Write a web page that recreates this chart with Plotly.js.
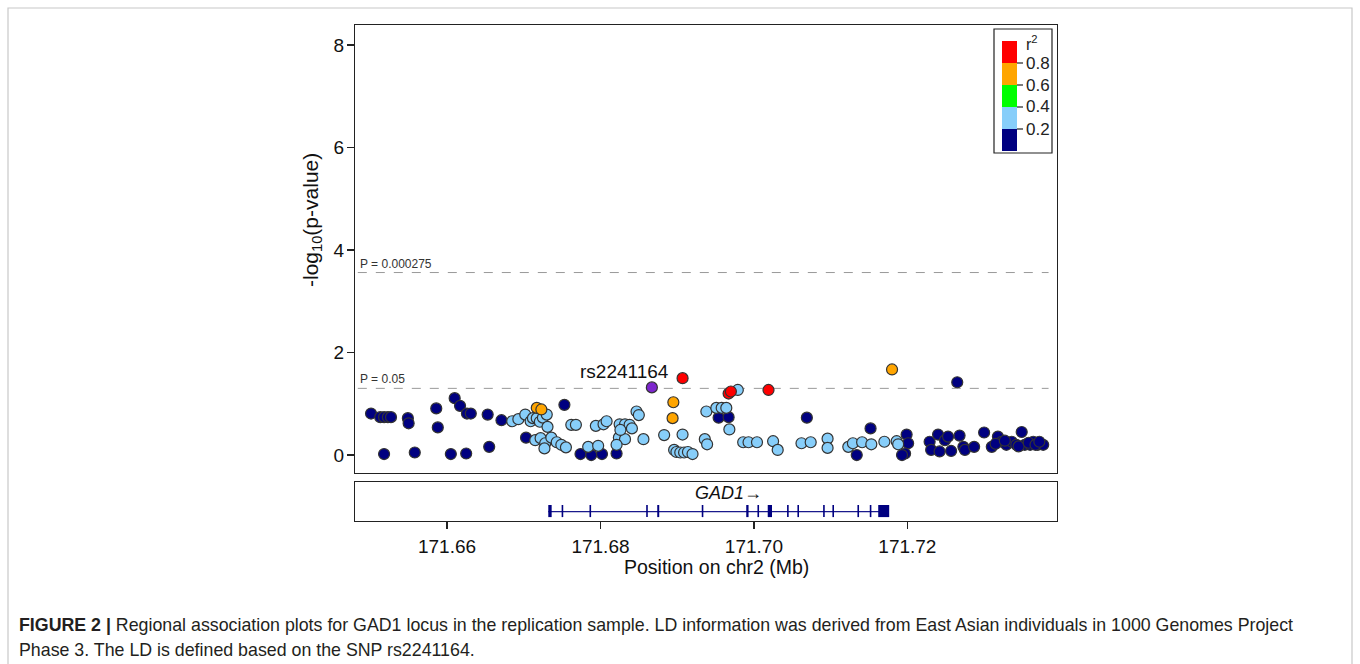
<!DOCTYPE html>
<html><head><meta charset="utf-8">
<script src="https://cdn.plot.ly/plotly-3.0.1.min.js"></script>
<style>html,body{margin:0;padding:0;background:#fff;}#chart{width:1360px;height:664px;}</style>
</head><body><div id="chart"></div>
<script>
// ---- data: SNP positions (Mb on chr2), -log10(p), LD r2 with the index SNP ----
const snpPos = [
  171.6501,171.6513,171.6518,171.6523,171.6527,171.6518,171.6549,171.6550,171.6558,171.6586,
  171.6588,171.6605,171.6610,171.6617,171.6626,171.6631,171.6625,171.6653,171.6655,171.6671,
  171.6703,171.6753,171.6774,171.6788,171.6802,171.6821,171.6954,171.6967,171.7069,171.7152,
  171.7134,171.7199,171.7201,171.7197,171.7193,171.7229,171.7231,171.7240,171.7242,171.7249,
  171.7253,171.7257,171.7268,171.7273,171.7275,171.7287,171.7265,171.7300,171.7310,171.7318,
  171.7323,171.7329,171.7336,171.7342,171.7349,171.7353,171.7360,171.7364,171.7370,171.7377,
  171.7315,171.7327,171.7345,171.7358,171.7367,171.7372,
  171.6685,171.6693,171.6702,171.6709,171.6712,171.6717,171.6721,171.6725,171.6730,171.6731,
  171.6715,171.6722,171.6728,171.6727,171.6736,171.6743,171.6749,171.6755,171.6762,171.6768,
  171.6794,171.6804,171.6784,171.6797,171.6808,171.6825,171.6832,171.6838,171.6841,171.6847,
  171.6850,171.6824,171.6832,171.6821,171.6826,171.6856,171.6883,171.6907,171.6896,171.6899,
  171.6904,171.6909,171.6914,171.6920,171.6936,171.6939,171.6938,171.6951,171.6958,171.6964,
  171.6968,171.6979,171.6986,171.6993,171.7004,171.7025,171.7031,171.7062,171.7074,171.7096,
  171.7096,171.7123,171.7129,171.7141,171.7153,171.7170,171.7186,171.7188,
  171.6717,171.6723,171.6895,171.6894,171.7180,
  171.6907,171.6967,171.6970,171.7019
];
const snpLogP = [
  0.81,0.74,0.74,0.74,0.74,0.02,0.72,0.62,0.05,0.91,
  0.54,0.02,1.11,0.96,0.81,0.81,0.03,0.79,0.16,0.68,
  0.34,0.98,0.02,0.00,0.02,0.03,0.73,0.74,0.73,0.52,
  0.00,0.40,0.23,0.03,0.00,0.26,0.10,0.40,0.07,0.29,
  0.36,0.08,0.38,0.16,0.10,0.16,1.42,0.44,0.16,0.36,
  0.26,0.20,0.26,0.20,0.45,0.20,0.20,0.26,0.20,0.20,
  0.22,0.28,0.17,0.24,0.20,0.26,
  0.66,0.70,0.79,0.66,0.72,0.72,0.65,0.73,0.79,0.55,
  0.29,0.33,0.23,0.13,0.34,0.25,0.20,0.15,0.59,0.59,
  0.57,0.60,0.16,0.18,0.66,0.60,0.60,0.59,0.52,0.85,
  0.78,0.34,0.31,0.20,0.49,0.31,0.39,0.40,0.10,0.06,
  0.05,0.05,0.06,0.02,0.31,0.21,0.85,0.92,0.92,0.92,
  0.50,1.27,0.25,0.25,0.25,0.27,0.10,0.23,0.25,0.32,
  0.14,0.16,0.23,0.25,0.21,0.26,0.27,0.21,
  0.92,0.89,1.03,0.72,1.67,
  1.50,1.20,1.24,1.27
];
const snpR2 = [].concat(
  Array(66).fill(0.1),
  Array(68).fill(0.3),
  Array(5).fill(0.7),
  Array(4).fill(0.9)
);
const indexSnpName = 'rs2241164';
const indexPos = [171.6867];
const indexLogP = [1.32];

const thresholdP = [0.000275, 0.05];
const thresholdLabels = ['P = 0.000275', 'P = 0.05'];

const r2Breaks = [0, 0.2, 0.4, 0.6, 0.8, 1.0];
const r2Colors = ['#000080', '#87CEFA', '#00FF00', '#FFA500', '#FF0000'];
const r2TickValues = [0.2, 0.4, 0.6, 0.8];
const r2TickLabels = ['0.2', '0.4', '0.6', '0.8'];

const geneName = 'GAD1';
const geneStart = 171.6732, geneEnd = 171.7176;
const exonStart = [171.67320,171.67494,171.67857,171.68596,171.68740,171.69320,171.69900,171.70046,
                   171.70180,171.70432,171.70567,171.70902,171.71023,171.71349,171.71510,171.71620];
const exonEnd   = [171.67364,171.67515,171.67878,171.68617,171.68766,171.69341,171.69930,171.70067,
                   171.70236,171.70453,171.70588,171.70923,171.71044,171.71370,171.71531,171.71763];

const xTickValues = [171.66, 171.68, 171.70, 171.72];
const xTickLabels = ['171.66', '171.68', '171.70', '171.72'];
const yTickValues = [0, 2, 4, 6, 8];

const captionLine1 = '<b>FIGURE 2 |</b> Regional association plots for GAD1 locus in the replication sample. LD information was derived from East Asian individuals in 1000 Genomes Project';
const captionLine2 = 'Phase 3. The LD is defined based on the SNP rs2241164.';

// ---- layout helpers ----
const W = 1360, H = 664, ML = 355, MR = 303, MT = 25, MB = 143;
const PW = W - ML - MR, PH = H - MT - MB;
const px = v => (v - ML) / PW;
const py = v => (H - MB - v) / PH;
const FONT = 'Liberation Sans, Arial, sans-serif';
const INK = '#222';

function colorFor(r) {
  for (let i = 0; i < r2Colors.length; i++) if (r < r2Breaks[i + 1]) return r2Colors[i];
  return r2Colors[r2Colors.length - 1];
}

const traces = [
  { type: 'scatter', mode: 'markers', x: snpPos, y: snpLogP, xaxis: 'x', yaxis: 'y',
    marker: { size: 11, color: snpR2.map(colorFor), line: { color: '#333', width: 1.2 } },
    hoverinfo: 'x+y', showlegend: false },
  { type: 'scatter', mode: 'markers', x: indexPos, y: indexLogP, xaxis: 'x', yaxis: 'y',
    marker: { size: 11, color: '#7D26CD', line: { color: '#333', width: 1.2 } },
    showlegend: false },
  { type: 'scatter', mode: 'lines', x: [geneStart, geneEnd], y: [0.24, 0.24], xaxis: 'x2', yaxis: 'y2',
    line: { color: '#1a1a8c', width: 1.4 }, hoverinfo: 'skip', showlegend: false }
];

const shapes = [];
const annotations = [];

// significance thresholds
thresholdP.forEach((p, i) => {
  const yv = -Math.log10(p);
  shapes.push({ type: 'line', xref: 'paper', yref: 'y', x0: 0.004, x1: 0.988, y0: yv, y1: yv,
    line: { color: '#999', width: 1, dash: 'dash' }, layer: 'below' });
  annotations.push({ xref: 'paper', yref: 'y', x: 0.004, y: yv, xanchor: 'left', yanchor: 'bottom',
    yshift: 0, showarrow: false, text: thresholdLabels[i], font: { family: FONT, size: 12, color: '#333' } });
});

// index SNP label
annotations.push({ xref: 'x', yref: 'y', x: indexPos[0], y: indexLogP[0], xanchor: 'right', yanchor: 'middle',
  xshift: 19, yshift: 16, showarrow: false, text: indexSnpName, font: { family: FONT, size: 19, color: '#111' } });

// exons
exonStart.forEach((s, i) => {
  shapes.push({ type: 'rect', xref: 'x2', yref: 'y2', x0: s, x1: exonEnd[i], y0: 0.10, y1: 0.41,
    fillcolor: '#000080', line: { width: 0 }, layer: 'above' });
});
annotations.push({ xref: 'x2', yref: 'y2', x: (geneStart + geneEnd) / 2, y: 0.72, xanchor: 'center', yanchor: 'middle',
  xshift: 10, showarrow: false, text: '<i>' + geneName + '</i>\u2192', font: { family: FONT, size: 18, color: '#111' } });

// r2 legend
shapes.push({ type: 'rect', xref: 'paper', yref: 'paper', x0: px(994), x1: px(1052), y0: py(153), y1: py(29),
  line: { color: '#222', width: 1.2 }, fillcolor: '#fff', layer: 'above' });
const legTop = 41, legBot = 151, legL = 1002, legR = 1017;
r2Colors.forEach((c, i) => {
  const yb = legBot - r2Breaks[i] * (legBot - legTop);
  const yt = legBot - r2Breaks[i + 1] * (legBot - legTop);
  shapes.push({ type: 'rect', xref: 'paper', yref: 'paper', x0: px(legL), x1: px(legR), y0: py(yb), y1: py(yt),
    fillcolor: c, line: { width: 0 }, layer: 'above' });
});
r2TickValues.forEach((v, i) => {
  const yy = legBot - v * (legBot - legTop);
  shapes.push({ type: 'line', xref: 'paper', yref: 'paper', x0: px(legR), x1: px(legR + 6), y0: py(yy), y1: py(yy),
    line: { color: '#222', width: 1.2 }, layer: 'above' });
  annotations.push({ xref: 'paper', yref: 'paper', x: px(legR + 7), y: py(yy), xanchor: 'left', yanchor: 'middle',
    showarrow: false, text: r2TickLabels[i], font: { family: FONT, size: 17, color: '#222' } });
});
annotations.push({ xref: 'paper', yref: 'paper', x: px(1024), y: py(43), xanchor: 'left', yanchor: 'middle',
  showarrow: false, text: 'r<sup>2</sup>', font: { family: FONT, size: 16, color: '#222' } });

// axis titles
annotations.push({ xref: 'paper', yref: 'paper', x: px(312), y: py(220), xanchor: 'center', yanchor: 'middle',
  textangle: -90, showarrow: false, text: '-log<sub>10</sub>(p-value)', font: { family: FONT, size: 21, color: '#111' } });
annotations.push({ xref: 'paper', yref: 'paper', x: px(716), y: py(567), xanchor: 'center', yanchor: 'middle',
  showarrow: false, text: 'Position on chr2 (Mb)', font: { family: FONT, size: 19.5, color: '#111' } });

// caption and frame
annotations.push({ xref: 'paper', yref: 'paper', x: px(17), y: py(625), xanchor: 'left', yanchor: 'middle',
  showarrow: false, text: captionLine1, font: { family: FONT, size: 17.8, color: '#231F20' } });
annotations.push({ xref: 'paper', yref: 'paper', x: px(17), y: py(650), xanchor: 'left', yanchor: 'middle',
  showarrow: false, text: captionLine2, font: { family: FONT, size: 17.8, color: '#231F20' } });
shapes.push({ type: 'path', xref: 'paper', yref: 'paper',
  path: `M ${px(8)} ${py(664)} L ${px(8)} ${py(8)} L ${px(1352)} ${py(8)} L ${px(1352)} ${py(664)}`,
  line: { color: '#c8c8c8', width: 1.2 }, layer: 'above' });

const xRange = [171.64801, 171.73950];
const axisCommon = { showgrid: false, zeroline: false, showline: true, mirror: true, linecolor: INK, linewidth: 1.2,
  tickfont: { family: FONT, size: 19, color: '#111' }, tickcolor: INK, tickwidth: 1.2, ticklen: 7, fixedrange: true };

const layout = {
  width: W, height: H,
  margin: { l: ML, r: MR, t: MT, b: MB, pad: 0 },
  paper_bgcolor: '#fff', plot_bgcolor: '#fff',
  showlegend: false,
  font: { family: FONT, color: '#111' },
  xaxis: Object.assign({}, axisCommon, { domain: [0, 1], anchor: 'y', range: xRange, showticklabels: false, ticks: '' }),
  yaxis: Object.assign({}, axisCommon, { domain: [(521 - 473) / PH, 1],
    anchor: 'x', range: [-0.35, 8.39], tickmode: 'array', tickvals: yTickValues, ticktext: yTickValues.map(String),
    ticks: 'outside', ticklabelstandoff: -1 }),
  xaxis2: Object.assign({}, axisCommon, { domain: [0, 1], anchor: 'y2', matches: 'x', range: xRange,
    tickmode: 'array', tickvals: xTickValues, ticktext: xTickLabels, ticks: 'outside', ticklabelstandoff: 1 }),
  yaxis2: Object.assign({}, axisCommon, { domain: [0, (521 - 482) / PH], anchor: 'x2', range: [0, 1],
    showticklabels: false, ticks: '' }),
  shapes: shapes,
  annotations: annotations
};

Plotly.newPlot('chart', traces, layout, { displayModeBar: false, staticPlot: true });
</script>
</body></html>
